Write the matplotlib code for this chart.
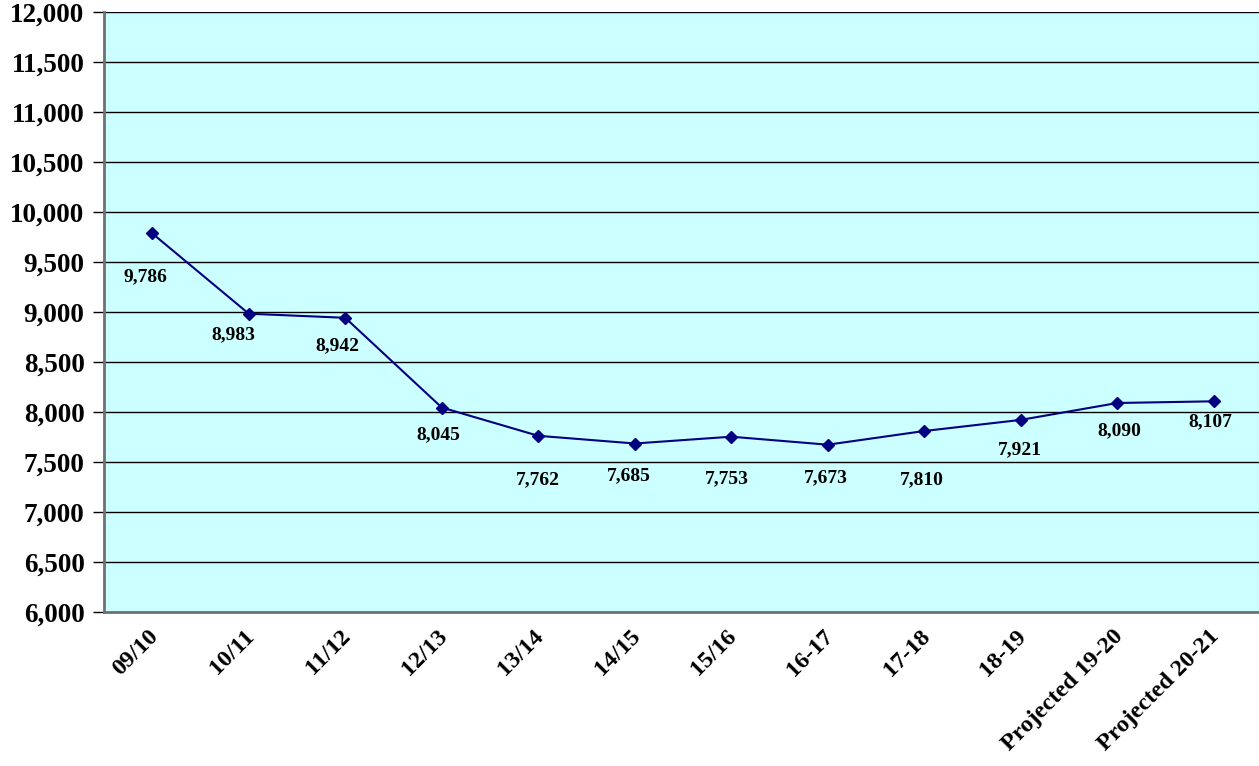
import matplotlib
matplotlib.use('Agg')
import matplotlib.pyplot as plt
from matplotlib.ticker import FuncFormatter
import matplotlib.transforms as mtransforms

# school years and enrolment counts
years = ['09/10', '10/11', '11/12', '12/13', '13/14', '14/15', '15/16',
         '16-17', '17-18', '18-19', 'Projected 19-20', 'Projected 20-21']
counts = [9786, 8983, 8942, 8045, 7762, 7685, 7753, 7673, 7810, 7921, 8090, 8107]

# label placement (pixels from the point)
label_dx = [-7, -15, -8, -3, 0, -6, -4, -2, -2, -1, 2, -3]
label_dy = [-43, -21, -28, -27, -44, -32, -42, -33, -49, -30, -28, -20]

plt.rcParams['font.family'] = 'Liberation Serif'
plt.rcParams['font.weight'] = 'bold'

fig = plt.figure(figsize=(12.59, 7.66), dpi=100)
ax = fig.add_axes([104/1259, 1 - 612/766, 1158/1259, 600/766])
ax.set_facecolor('#CCFFFF')

x = list(range(len(years)))
ax.plot(x, counts, color='#000080', lw=1.5, marker='D', ms=6, zorder=3)

for i in x:
    ax.annotate('{:,}'.format(counts[i]), (i, counts[i]),
                xytext=(label_dx[i], label_dy[i]), textcoords='offset pixels',
                ha='center', va='center', fontsize=14, fontweight='bold')

ax.set_xlim(-0.5, len(years) - 0.5)
ax.set_ylim(6000, 12000)
ax.set_yticks(range(6000, 12001, 500))
ax.yaxis.set_major_formatter(FuncFormatter(lambda v, p: '{:,}'.format(int(v))))
ax.grid(axis='y', color='black', lw=1)
ax.set_axisbelow(True)

ax.set_xticks(x)
ax.set_xticklabels(years, rotation=45, ha='right', va='top', rotation_mode='anchor')
ax.tick_params(axis='x', length=0, pad=10, labelsize=17.5)
ax.tick_params(axis='y', length=8, width=1, direction='out', pad=6, labelsize=19.5)
shift = mtransforms.ScaledTranslation(-5/100, 0, fig.dpi_scale_trans)
for lbl in ax.get_xticklabels():
    lbl.set_transform(lbl.get_transform() + shift)

for s in ['top', 'right']:
    ax.spines[s].set_visible(False)
ax.spines['left'].set_color('#707070')
ax.spines['left'].set_linewidth(2)
ax.spines['bottom'].set_color('#707070')
ax.spines['bottom'].set_linewidth(2)

fig.savefig('out.png', dpi=100)
